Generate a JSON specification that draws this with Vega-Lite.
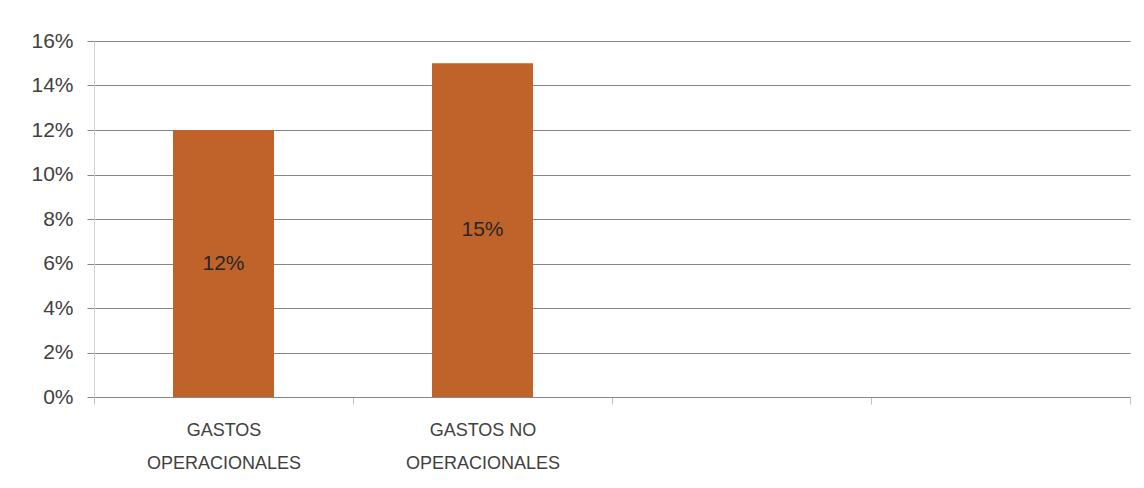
{
  "$schema": "https://vega.github.io/schema/vega-lite/v6.json",
  "width": 1036,
  "height": 356,
  "autosize": {"type": "none"},
  "padding": {"left": 94, "top": 41, "right": 14, "bottom": 91},
  "background": "white",
  "config": {
    "view": {"stroke": null},
    "font": "Liberation Sans"
  },
  "data": {
    "values": [
      {"categoria": "GASTOS OPERACIONALES", "valor": 0.12, "etiqueta": "12%"},
      {"categoria": "GASTOS NO OPERACIONALES", "valor": 0.15, "etiqueta": "15%"}
    ]
  },
  "encoding": {
    "x": {
      "field": "categoria",
      "type": "nominal",
      "sort": null,
      "scale": {
        "domain": ["GASTOS OPERACIONALES", "GASTOS NO OPERACIONALES", "c3", "c4"],
        "paddingInner": 0,
        "paddingOuter": 0
      },
      "axis": {
        "title": null,
        "labelAngle": 0,
        "labelExpr": "datum.value == 'GASTOS OPERACIONALES' ? ['GASTOS', 'OPERACIONALES'] : datum.value == 'GASTOS NO OPERACIONALES' ? ['GASTOS NO', 'OPERACIONALES'] : ''",
        "labelFontSize": 18,
        "labelColor": "#404040",
        "labelLineHeight": 33,
        "labelPadding": 17,
        "tickBand": "extent",
        "tickSize": 7,
        "tickColor": "#BFBFBF",
        "domainColor": "#868686",
        "grid": false
      }
    }
  },
  "layer": [
    {
      "mark": {"type": "bar", "width": {"band": 0.39}, "color": "#C0632B"},
      "encoding": {
        "y": {
          "field": "valor",
          "type": "quantitative",
          "scale": {"domain": [0, 0.16], "nice": false},
          "axis": {
            "title": null,
            "values": [0, 0.02, 0.04, 0.06, 0.08, 0.1, 0.12, 0.14, 0.16],
            "format": ".0%",
            "labelFontSize": 21,
            "labelColor": "#404040",
            "labelPadding": 14,
            "tickSize": 7,
            "tickColor": "#868686",
            "domainColor": "#D0D0D0",
            "grid": true,
            "gridColor": "#868686",
            "gridWidth": 1
          }
        }
      }
    },
    {
      "mark": {"type": "text", "fontSize": 21, "color": "#262626", "baseline": "middle", "align": "center"},
      "encoding": {
        "y": {
          "field": "valor",
          "type": "quantitative",
          "scale": {"domain": [0, 0.32], "nice": false},
          "axis": null
        },
        "text": {"field": "etiqueta"}
      }
    }
  ],
  "resolve": {"scale": {"y": "independent"}, "axis": {"y": "independent"}}
}
